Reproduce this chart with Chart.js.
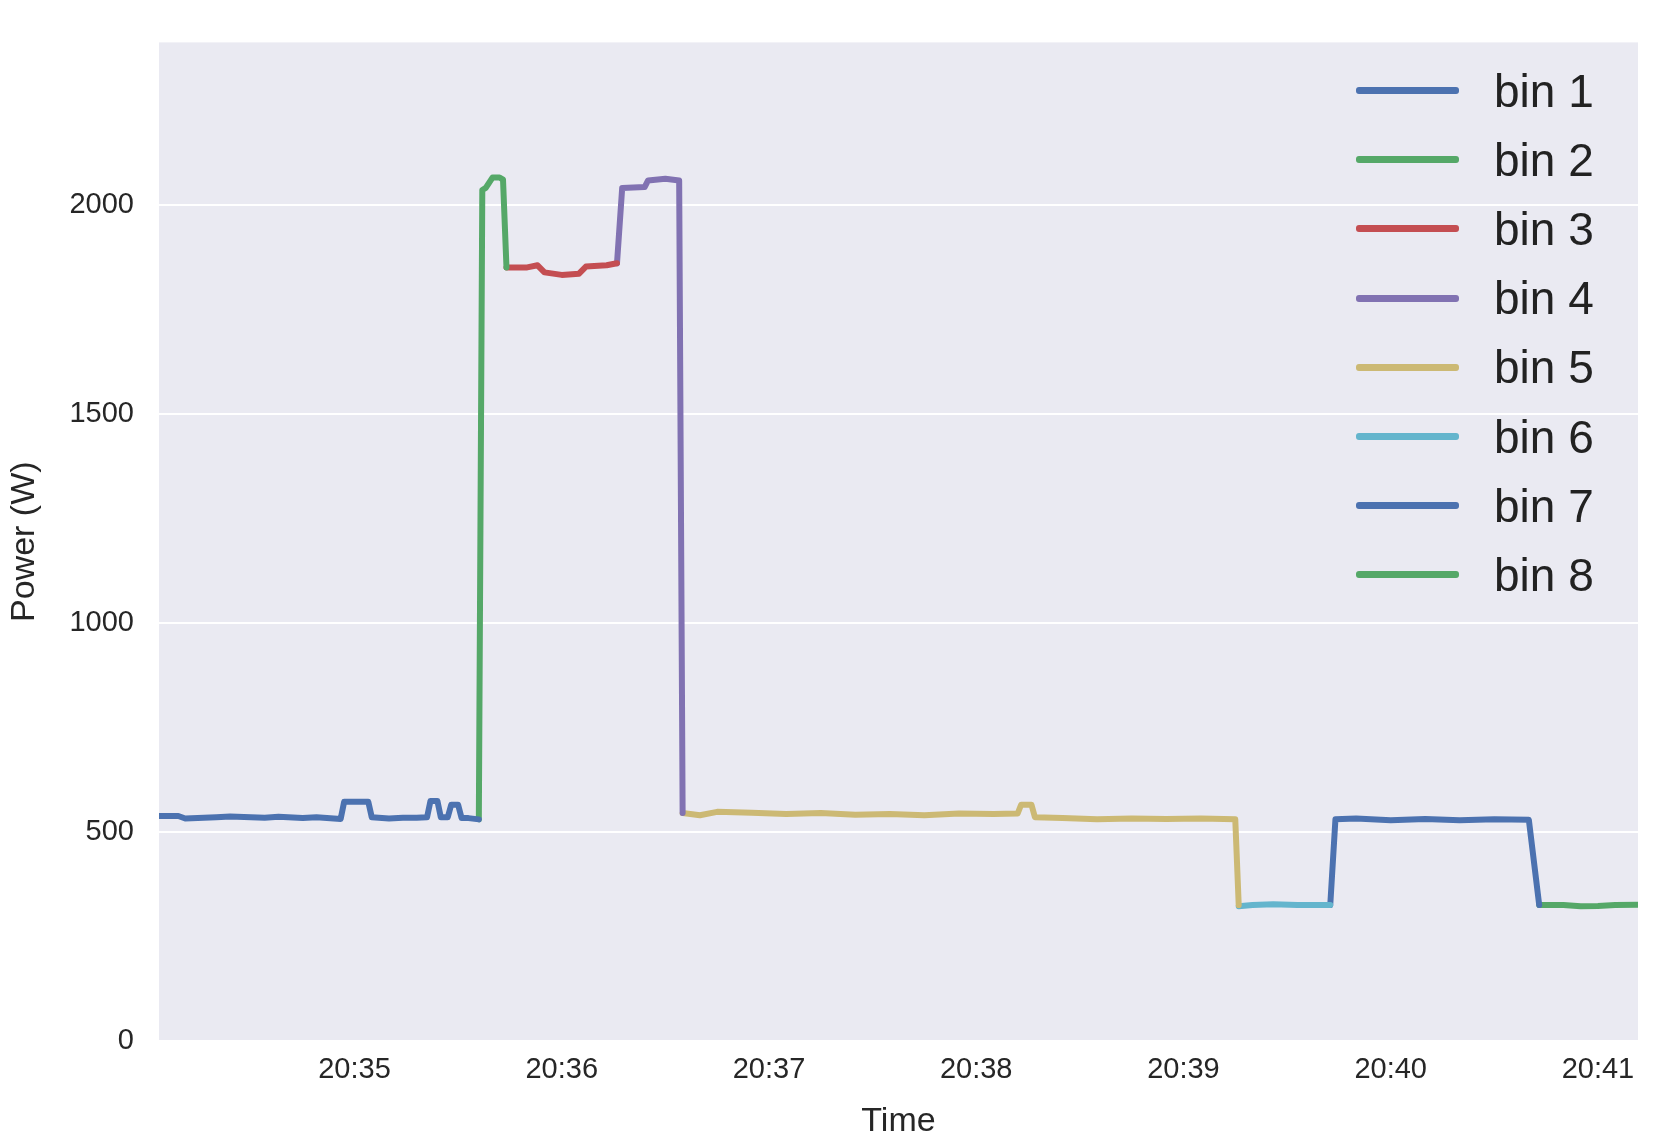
<!DOCTYPE html>
<html>
<head>
<meta charset="utf-8">
<script src="https://cdn.jsdelivr.net/npm/chart.js@4"></script>
<style>
  body { margin: 0; background: #fff; }
  #wrap { position: relative; width: 1658px; height: 1146px; }
  #legend { position: absolute; left: 1356px; top: 56px; font-family: "Liberation Sans", Arial, sans-serif; font-size: 46px; color: #222; }
  #legend div { height: 69.2px; display: flex; align-items: center; }
  #legend span.l { display: inline-block; width: 103px; height: 7px; border-radius: 3px; margin-right: 35px; }
</style>
</head>
<body>
<div id="wrap">
  <canvas id="chart" width="1658" height="1146"></canvas>
  <div id="legend"></div>
</div>
<script>
// seconds after 20:34:00
const bin1T = [3, 9, 11, 20, 24, 34, 38, 45, 49, 56, 57, 64, 65, 70, 74, 78, 81, 82, 84, 85, 87, 88, 90, 91, 93, 96];
const bin1V = [538, 538, 532, 535, 537, 534, 536, 533, 535, 531, 572, 572, 535, 532, 534, 534, 535, 574, 574, 535, 535, 565, 565, 533, 533, 530];
const bin2T = [96, 97, 98, 100, 102, 103, 104];
const bin2V = [530, 2035, 2040, 2065, 2065, 2060, 1850];
const bin3T = [104, 110, 113, 115, 120, 125, 127, 133, 136];
const bin3V = [1850, 1850, 1855, 1838, 1832, 1835, 1852, 1855, 1860];
const bin4T = [136, 137.5, 144, 145, 150, 154, 155];
const bin4V = [1860, 2040, 2042, 2058, 2062, 2058, 545];
const bin5T = [155, 160, 165, 175, 185, 195, 205, 215, 225, 235, 245, 252, 253, 256, 257, 265, 275, 285, 295, 305, 315, 316];
const bin5V = [545, 540, 548, 546, 543, 545, 541, 543, 540, 544, 543, 544, 565, 565, 535, 533, 530, 532, 531, 532, 530, 325];
const bin6T = [316, 320, 326, 333, 342.5];
const bin6V = [322, 325, 327, 325, 325];
const bin7T = [342.5, 344, 350, 360, 370, 380, 390, 400, 403];
const bin7V = [325, 530, 532, 528, 531, 528, 530, 529, 325];
const bin8T = [403, 410, 415, 420, 425, 432];
const bin8V = [325, 325, 322, 323, 325, 326];

const names = ['bin 1', 'bin 2', 'bin 3', 'bin 4', 'bin 5', 'bin 6', 'bin 7', 'bin 8'];
const colors = ['#4C72B0', '#55A868', '#C44E52', '#8172B2', '#CCB974', '#64B5CD', '#4C72B0', '#55A868'];
const allT = [bin1T, bin2T, bin3T, bin4T, bin5T, bin6T, bin7T, bin8T];
const allV = [bin1V, bin2V, bin3V, bin4V, bin5V, bin6V, bin7V, bin8V];
const tickTimes = [60, 120, 180, 240, 300, 360, 420];
const yTicks = [0, 500, 1000, 1500, 2000];

const datasets = names.map((n, i) => ({
    label: n,
    data: allT[i].map((t, j) => ({ x: t, y: allV[i][j] })),
    borderColor: colors[i],
    borderWidth: 6,
    pointRadius: 0,
    tension: 0,
    borderJoinStyle: 'round',
    borderCapStyle: 'round'
}));

const fmt = (s) => {
    const m = 34 + Math.round(s / 60);
    return '20:' + String(m).padStart(2, '0');
};

const bg = {
    id: 'bg',
    beforeDraw(chart) {
        const a = chart.chartArea, c = chart.ctx;
        c.save();
        c.fillStyle = '#EAEAF2';
        c.fillRect(a.left, a.top, a.right - a.left, a.bottom - a.top);
        c.restore();
    }
};

new Chart(document.getElementById('chart'), {
    type: 'line',
    data: { datasets },
    plugins: [bg],
    options: {
        responsive: false,
        animation: false,
        layout: { padding: { top: 16, right: 20 } },
        plugins: { legend: { display: false }, tooltip: { enabled: false } },
        scales: {
            x: {
                type: 'linear',
                min: 3.4,
                max: 431.6,
                afterBuildTicks: (s) => { s.ticks = tickTimes.map(v => ({ value: v })); },
                afterFit: (s) => { s.height = 105; },
                grid: { display: false },
                border: { display: false },
                ticks: { callback: (v) => fmt(v), color: '#262626', font: { size: 29, family: 'Liberation Sans' }, padding: 4, maxRotation: 0 },
                title: { display: true, text: 'Time', color: '#262626', font: { size: 34, family: 'Liberation Sans' }, padding: { top: 12 } }
            },
            y: {
                min: 0,
                max: 2388,
                afterBuildTicks: (s) => { s.ticks = yTicks.map(v => ({ value: v })); },
                afterFit: (s) => { s.width = 159; },
                grid: { color: '#FFFFFF', lineWidth: 2, drawTicks: false },
                border: { display: false },
                ticks: { callback: (v) => String(v), color: '#262626', font: { size: 29, family: 'Liberation Sans' }, padding: 25 },
                title: { display: true, text: 'Power (W)', color: '#262626', font: { size: 34, family: 'Liberation Sans' }, padding: { bottom: 4 } }
            }
        }
    }
});

document.getElementById('legend').innerHTML = names.map((n, i) =>
    '<div><span class="l" style="background:' + colors[i] + '"></span>' + n + '</div>').join('');
</script>
</body>
</html>
